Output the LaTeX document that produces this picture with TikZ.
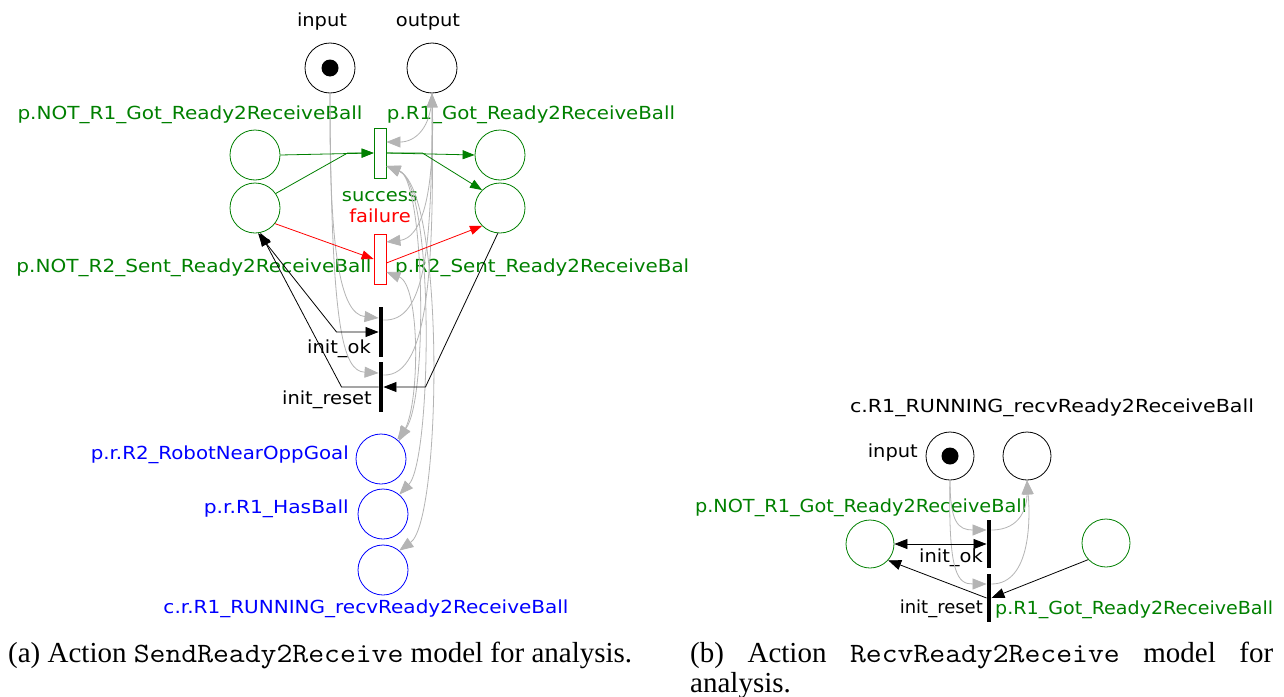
\documentclass[tikz,border=0pt]{standalone}
\usepackage{fontspec}
\usepackage{graphicx}
\setmainfont{Liberation Serif}
\newfontfamily\lblfont{DejaVu Sans}
\usetikzlibrary{arrows.meta}
\definecolor{pgreen}{RGB}{0,128,0}
\definecolor{lgray}{RGB}{180,180,180}
\newcommand{\wl}[1]{\scalebox{1.08}[1]{#1}}
\newcommand{\fitw}[2]{\resizebox{#1}{\height}{#2}}
\newcommand{\capmono}[1]{\scalebox{1.1}[1]{\ttfamily\fontsize{28}{30}\selectfont #1}}
\begin{document}
\begin{tikzpicture}[x=1pt,y=-1pt,
  place/.style={circle,draw,minimum size=50pt,inner sep=0pt,line width=0.8pt},
  gplace/.style={place,draw=pgreen},
  bplace/.style={place,draw=blue},
  trg/.style={rectangle,draw=pgreen,minimum width=12pt,minimum height=50pt,inner sep=0pt,line width=0.8pt},
  trr/.style={rectangle,draw=red,minimum width=12pt,minimum height=50pt,inner sep=0pt,line width=0.8pt},
  tbar/.style={rectangle,fill=black,minimum width=4.5pt,minimum height=50pt,inner sep=0pt},
  lbl/.style={font=\lblfont\fontsize{18}{21}\selectfont,inner sep=0pt},
  captxt/.style={font=\fontsize{29}{31}\selectfont,inner sep=0pt,anchor=base west},
  garc/.style={draw=lgray,line width=0.8pt,-{Triangle[length=14pt,width=11pt]}},
  gboth/.style={draw=lgray,line width=0.8pt,{Triangle[length=14pt,width=11pt]}-{Triangle[length=14pt,width=11pt]}},
  greenarc/.style={draw=pgreen,line width=0.8pt,-{Triangle[length=12pt,width=9pt]}},
  redarc/.style={draw=red,line width=0.8pt,-{Triangle[length=12pt,width=9pt]}},
  barc/.style={draw=black,line width=0.8pt,-{Triangle[length=13pt,width=10pt]}},
  bboth/.style={draw=black,line width=0.8pt,{Triangle[length=13pt,width=10pt]}-{Triangle[length=13pt,width=10pt]}}
]
\fill[white] (0,0) rectangle (1284,696);
\useasboundingbox (0,0) rectangle (1284,696);

% ---------------- left diagram ----------------
\node[place] (inL) at (330,68) {};
\fill (inL.center) circle (8.5pt);
\node[place] (outL) at (432,68) {};
\node[lbl] (inLl) at (322,22) {\wl{input}};
\node[lbl] (outLl) at (428,22) {\wl{output}};

\node[gplace] (nr1) at (255,155) {};
\node[gplace] (nr2) at (255,208) {};
\node[gplace] (r1) at (500,155) {};
\node[gplace] (r2) at (500,208) {};
\node[lbl,text=pgreen] (nr1l) at (190,115) {\fitw{345pt}{p.NOT\_R1\_Got\_Ready2ReceiveBall}};
\node[lbl,text=pgreen] (r1l) at (531,115) {\fitw{288pt}{p.R1\_Got\_Ready2ReceiveBall}};
\node[lbl,text=pgreen] (nr2l) at (194,268) {\fitw{355pt}{p.NOT\_R2\_Sent\_Ready2ReceiveBall}};
\node[lbl,text=pgreen,anchor=west] (r2l) at (395,268) {\fitw{294pt}{p.R2\_Sent\_Ready2ReceiveBal}};

\node[trg] (succ) at (380,153) {};
\node[trr] (fail) at (380,259) {};
\node[lbl,text=pgreen] (succl) at (380,197) {\wl{success}};
\node[lbl,text=red] (faill) at (380,216) {\wl{failure}};
\node[tbar] (iok) at (381,332) {};
\node[tbar] (irs) at (381,387) {};
\node[lbl,anchor=east] (iokl) at (371,349) {\wl{init\_ok}};
\node[lbl,anchor=east] (irsl) at (372,400) {\wl{init\_reset}};

\node[bplace] (b1) at (381,459) {};
\node[bplace] (b2) at (383,514) {};
\node[bplace] (b3) at (383,570) {};
\node[lbl,text=blue,anchor=east] (b1l) at (349,455) {\fitw{258pt}{p.r.R2\_RobotNearOppGoal}};
\node[lbl,text=blue,anchor=east] (b2l) at (349,509) {\fitw{145pt}{p.r.R1\_HasBall}};
\node[lbl,text=blue] (b3l) at (366,609) {\fitw{405pt}{c.r.R1\_RUNNING\_recvReady2ReceiveBall}};

% gray arcs
\draw[garc] (inL.south) .. controls (329,250) and (340,314) .. ([yshift=14pt]iok.west);
\draw[garc] (inL.south) .. controls (331,330) and (343,371) .. ([yshift=14pt]irs.west);
\draw[garc] ([yshift=12pt]iok.east) .. controls (425,322) and (432,250) .. (outL.south);
\draw[garc] ([yshift=12pt]irs.east) .. controls (430,377) and (434,260) .. (outL.south);
\draw[garc] (outL.south) .. controls (432,128) and (415,142) .. ([yshift=11pt]succ.east);
\draw[garc] (outL.south) .. controls (436,200) and (420,238) .. ([yshift=17pt]fail.east);
\draw[gboth] ([yshift=-13pt]succ.east) .. controls (425,180) and (428,400) .. (b1.50);
\draw[gboth] ([yshift=-13pt]fail.east) .. controls (420,285) and (420,400) .. (b1.45);
\draw[gboth] ([yshift=-13pt]succ.east) .. controls (435,185) and (432,460) .. (b2.50);
\draw[gboth] ([yshift=-13pt]succ.east) .. controls (445,190) and (442,520) .. (b3.50);

% green arcs
\draw[greenarc] (nr1.east) -- (succ.west);
\draw[greenarc] (nr2.35) -- ([xshift=-26pt]succ.west) -- (succ.west);
\draw[greenarc] (succ.east) -- (r1.west);
\draw[greenarc] (succ.east) -- ([xshift=36pt]succ.east) -- (r2.135);
% red arcs
\draw[redarc] (nr2.-38) -- (fail.west);
\draw[redarc] ([yshift=-4pt]fail.east) -- (r2.-135);
% black arcs
\draw[bboth] (nr2.-83) -- ([xshift=-42pt]iok.west) -- (iok.west);
\draw[barc] (irs.west) -- ([xshift=-37pt]irs.west) -- (nr2.-78);
\draw[barc] (r2.-95) -- ([xshift=42pt]irs.east) -- (irs.east);

% ---------------- right diagram ----------------
\node[lbl] (cR) at (1052,408) {\fitw{404pt}{c.R1\_RUNNING\_recvReady2ReceiveBall}};
\node[place,minimum size=48pt] (inR) at (950,456) {};
\fill (inR.center) circle (8.5pt);
\node[place,minimum size=48pt] (outR) at (1027,456) {};
\node[lbl,anchor=east] (inRl) at (918,453) {\wl{input}};
\node[gplace,minimum size=48pt] (nR) at (870,544) {};
\node[gplace,minimum size=48pt] (rR) at (1106,543) {};
\node[lbl,text=pgreen] (nRl) at (861,508) {\fitw{332pt}{p.NOT\_R1\_Got\_Ready2ReceiveBall}};
\node[lbl,text=pgreen,anchor=west] (rRl) at (995,610) {\fitw{278pt}{p.R1\_Got\_Ready2ReceiveBall}};
\node[tbar,minimum height=48pt] (iokR) at (989,544) {};
\node[tbar,minimum height=48pt] (irsR) at (989,598) {};
\node[lbl,anchor=east] (iokRl) at (983,558) {\wl{init\_ok}};
\node[lbl,anchor=east] (irsRl) at (983,609) {\fitw{83pt}{init\_reset}};

\draw[garc] (inR.south) .. controls (950,522) and (958,530) .. ([yshift=14pt]iokR.west);
\draw[garc] ([yshift=14pt]iokR.east) .. controls (1022,530) and (1027,505) .. (outR.south);
\draw[garc] (inR.south) .. controls (948,575) and (958,584) .. ([yshift=14pt]irsR.west);
\draw[garc] ([yshift=14pt]irsR.east) .. controls (1032,584) and (1030,515) .. (outR.south);
\draw[bboth] (nR.east) -- (iokR.west);
\draw[barc] (irsR.west) -- (nR.-42);
\draw[barc] (rR.-137) -- (irsR.east);

% ---------------- captions ----------------
\node[captxt] (capa) at (8,662) {(a) Action \capmono{SendReady2Receive} model for analysis.};
\node[captxt] (capb) at (690,662) {\makebox[583pt][s]{(b) Action \capmono{RecvReady2Receive} model for}};
\node[captxt] (capb2) at (690,692) {analysis.};
\end{tikzpicture}
\end{document}
